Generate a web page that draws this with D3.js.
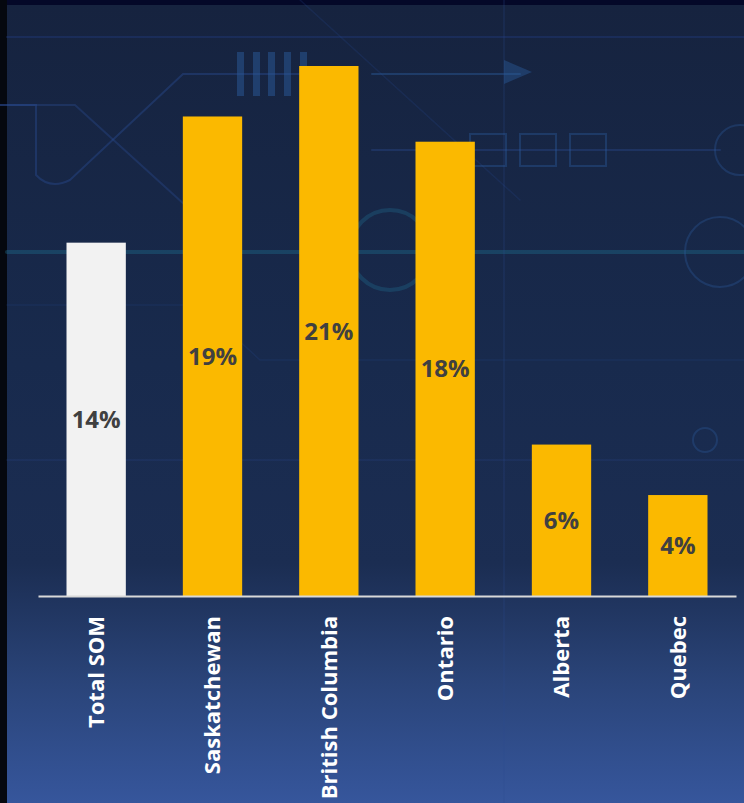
<!DOCTYPE html>
<html lang="en">
<head>
<meta charset="UTF-8">
<title>SOM by Province</title>
<script src="https://d3js.org/d3.v7.min.js"></script>
<style>
  html, body { margin: 0; padding: 0; background: #05080f; }
  svg { display: block; }
</style>
</head>
<body>
<div id="chart"></div>
<script>
// Chart data
const categories = ["Total SOM", "Saskatchewan", "British Columbia", "Ontario", "Alberta", "Quebec"];
const values = [14, 19, 21, 18, 6, 4];
const valueLabels = ["14%", "19%", "21%", "18%", "6%", "4%"];
const barColors = ["#f2f2f2", "#fbb900", "#fbb900", "#fbb900", "#fbb900", "#fbb900"];

const width = 744, height = 803;

const svg = d3.select("#chart").append("svg")
    .attr("width", width)
    .attr("height", height);

const defs = svg.append("defs");
const bg = defs.append("linearGradient")
    .attr("id", "bg")
    .attr("x1", 0).attr("y1", 0).attr("x2", 0).attr("y2", 1);
bg.selectAll("stop")
    .data([[0, "#16233f"], [0.45, "#182a4d"], [0.7, "#1b2d52"], [0.85, "#2a4479"], [1, "#36569c"]])
    .enter().append("stop")
    .attr("offset", d => d[0])
    .attr("stop-color", d => d[1]);

// frame + panel
svg.append("rect").attr("width", width).attr("height", height).attr("fill", "#05080f");
svg.append("rect").attr("x", 7).attr("y", 0).attr("width", width - 7).attr("height", 5).attr("fill", "#040828");
svg.append("rect").attr("x", 7).attr("y", 5).attr("width", width - 7).attr("height", height - 5).attr("fill", "url(#bg)");

// faint circuit-board decoration
const deco = svg.append("g").attr("fill", "none").attr("stroke-linecap", "round");
deco.selectAll("path")
    .data([
        ["M7,37 H744", "#22408a", 2, 0.35],
        ["M372,74 H520", "#2a5a9a", 2, 0.45],
        ["M0,105 H36 V175 Q50,190 70,180 L183,74 H300", "#2a4d95", 2, 0.4],
        ["M0,105 H75 L185,205", "#2a4d95", 2, 0.35],
        ["M7,252 H744", "#1f6b8c", 4, 0.4],
        ["M372,150 H720", "#2a4d95", 2, 0.35],
        ["M504,0 V803", "#2a4d95", 1.5, 0.25],
        ["M7,460 H744", "#2a4d95", 1.5, 0.25],
        ["M7,305 H200 L260,360 H744", "#244583", 1.5, 0.25],
        ["M300,0 L520,200", "#2a4d95", 1.5, 0.2]
    ])
    .enter().append("path")
    .attr("d", d => d[0])
    .attr("stroke", d => d[1])
    .attr("stroke-width", d => d[2])
    .attr("opacity", d => d[3]);
deco.append("circle").attr("cx", 390).attr("cy", 250).attr("r", 40).attr("stroke", "#1f6b8c").attr("stroke-width", 4).attr("opacity", 0.35);
deco.append("circle").attr("cx", 720).attr("cy", 252).attr("r", 35).attr("stroke", "#2a5a9a").attr("stroke-width", 2).attr("opacity", 0.35);
deco.append("circle").attr("cx", 740).attr("cy", 150).attr("r", 25).attr("stroke", "#2a5a9a").attr("stroke-width", 2).attr("opacity", 0.35);
deco.append("circle").attr("cx", 705).attr("cy", 440).attr("r", 12).attr("stroke", "#2a5a9a").attr("stroke-width", 2).attr("opacity", 0.35);
deco.selectAll("rect.sq")
    .data([470, 520, 570])
    .enter().append("rect")
    .attr("x", d => d).attr("y", 134).attr("width", 36).attr("height", 32)
    .attr("stroke", "#2a5a9a").attr("stroke-width", 2).attr("opacity", 0.4);
deco.selectAll("rect.bar")
    .data([237, 253, 268, 284, 300])
    .enter().append("rect")
    .attr("x", d => d).attr("y", 52).attr("width", 7).attr("height", 44)
    .attr("fill", "#2a5a9a").attr("stroke", "none").attr("opacity", 0.5);
deco.append("path").attr("d", "M504,60 L532,72 L504,84 Z").attr("fill", "#2a5a9a").attr("stroke", "none").attr("opacity", 0.45);

// scales
const baseline = 596;
const x = d3.scaleBand()
    .domain(categories)
    .range([38, 736])
    .paddingInner(0.49)
    .paddingOuter(0.245);

const y = d3.scaleLinear()
    .domain([0, 21])
    .range([baseline, 66]);

const data = categories.map((c, i) => ({ cat: c, value: values[i], label: valueLabels[i], color: barColors[i] }));

// bars
svg.append("g").selectAll("rect")
    .data(data)
    .enter().append("rect")
    .attr("x", d => x(d.cat))
    .attr("y", d => y(d.value))
    .attr("width", x.bandwidth())
    .attr("height", d => y(0) - y(d.value))
    .attr("fill", d => d.color);

// value labels
svg.append("g").selectAll("text")
    .data(data)
    .enter().append("text")
    .attr("x", d => x(d.cat) + x.bandwidth() / 2)
    .attr("y", d => (y(d.value) + y(0)) / 2)
    .attr("dy", "0.36em")
    .attr("text-anchor", "middle")
    .attr("font-family", "'Open Sans', sans-serif")
    .attr("font-weight", "bold")
    .attr("font-size", 24)
    .attr("fill", "#404040")
    .text(d => d.label);

// x axis
const xAxis = svg.append("g")
    .attr("transform", `translate(0,${baseline})`)
    .call(d3.axisBottom(x).tickSize(0).tickPadding(0));
xAxis.select(".domain")
    .attr("stroke", "#d9d9d9")
    .attr("stroke-width", 2);
xAxis.selectAll(".tick text")
    .attr("transform", "rotate(-90)")
    .attr("x", -20)
    .attr("y", 0)
    .attr("dy", "0.36em")
    .attr("text-anchor", "end")
    .attr("font-family", "'Open Sans', sans-serif")
    .attr("font-weight", "bold")
    .attr("font-size", 22)
    .attr("fill", "#ffffff");
</script>
</body>
</html>
